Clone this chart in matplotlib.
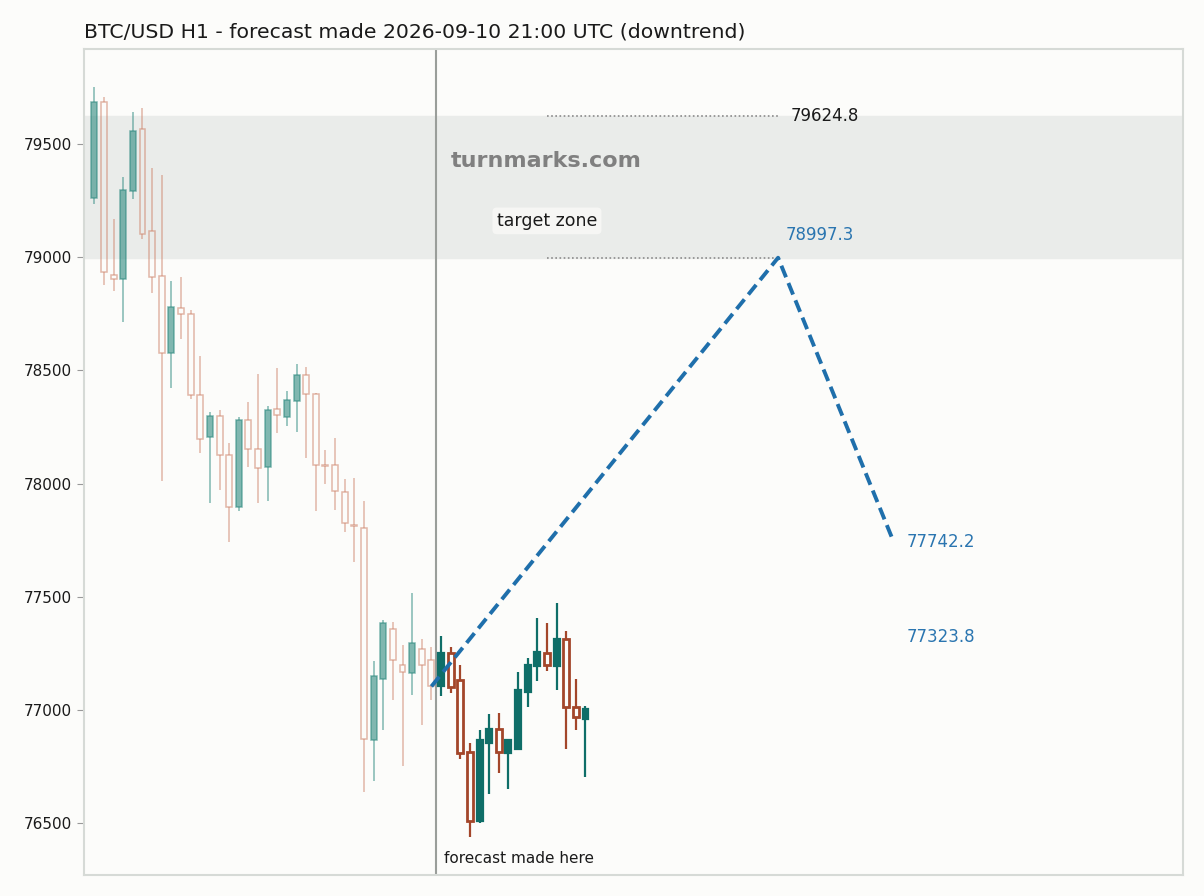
import numpy as np
import matplotlib.pyplot as plt

# Candles before the forecast (H1)
hist_open = [79260, 79684, 78920, 78902, 79294, 79565, 79116, 78917, 78576, 78774,
             78748, 78390, 78204, 78297, 78125, 77896, 78280, 78152, 78072, 78328,
             78293, 78363, 78479, 78394, 78083, 78081, 77962, 77818, 77803, 76866,
             77136, 77356, 77197, 77162, 77268, 77219]
hist_close = [79684, 78933, 78905, 79297, 79557, 79101, 78911, 78576, 78779, 78748,
              78390, 78196, 78297, 78125, 77896, 78280, 78152, 78067, 78324, 78302,
              78368, 78479, 78394, 78081, 78079, 77966, 77825, 77813, 76871, 77149,
              77383, 77219, 77166, 77295, 77197, 77104]
hist_high = [79750, 79706, 79167, 79353, 79640, 79658, 79393, 79362, 78894, 78911,
             78765, 78562, 78318, 78324, 78178, 78293, 78359, 78483, 78344, 78509,
             78410, 78527, 78514, 78399, 78147, 78200, 78019, 78023, 77922, 77215,
             77396, 77387, 77286, 77515, 77312, 77277]
hist_low = [79235, 78877, 78852, 78712, 79256, 79079, 78841, 78010, 78421, 78637,
            78372, 78134, 77913, 77972, 77742, 77879, 78072, 77913, 77923, 78224,
            78254, 78228, 78112, 77878, 77997, 77882, 77785, 77652, 76636, 76685,
            76910, 77043, 76751, 77065, 76933, 77043]

# Candles after the forecast
post_open = [77107, 77250, 77132, 76813, 76511, 76856, 76915, 76811, 76829, 77081,
             77196, 77250, 77196, 77312, 77012, 76962]
post_close = [77252, 77100, 76809, 76510, 76867, 76916, 76813, 76867, 77088, 77199,
              77256, 77199, 77314, 77012, 76968, 77004]
post_high = [77327, 77278, 77199, 76854, 76913, 76982, 76987, 76872, 77168, 77230,
             77406, 77384, 77473, 77349, 77137, 77018]
post_low = [77063, 77077, 76783, 76441, 76502, 76630, 76723, 76651, 76829, 77015,
            77130, 77170, 77090, 76829, 76913, 76706]

# Forecast path (bar index, price)
fc_x = [35, 71, 83]
fc_y = [77104, 78997.3, 77742.2]
zone_low = 78997.3
zone_high = 79624.8
second_level = 77323.8

bg = "#fcfcfa"
fig = plt.figure(figsize=(12.04, 8.96), dpi=100, facecolor=bg)
ax = fig.add_axes([0.0698, 0.0234, 0.9128, 0.9219], facecolor=bg)


def draw_candles(ax, x0, o, c, h, l, up, down, alpha, lw, blw):
    for i in range(len(o)):
        x = x0 + i
        bull = c[i] >= o[i]
        col = up if bull else down
        lo, hi = min(o[i], c[i]), max(o[i], c[i])
        ax.vlines(x, l[i], lo, color=col, lw=lw, alpha=alpha, zorder=2)
        ax.vlines(x, hi, h[i], color=col, lw=lw, alpha=alpha, zorder=2)
        height = max(hi - lo, 4)
        if bull:
            ax.bar(x, height, 0.62, bottom=lo, color=col, edgecolor=col,
                   lw=lw, alpha=alpha, zorder=3)
        else:
            ax.bar(x, height, 0.62, bottom=lo, facecolor="none", edgecolor=col,
                   lw=blw, alpha=alpha, zorder=3)


draw_candles(ax, 0, hist_open, hist_close, hist_high, hist_low,
             "#2e8a80", "#d08870", 0.6, 1.1, 1.1)
draw_candles(ax, 36, post_open, post_close, post_high, post_low,
             "#0f6e68", "#a3462a", 1.0, 1.6, 2.0)

# target zone
ax.axhspan(zone_low, zone_high, color="#eaecea", zorder=0)
ax.hlines([zone_high, zone_low], 47, 71, colors="#8a8a8a", linestyles=(0, (1, 1.5)),
          lw=1.2, zorder=1)
ax.text(72.3, zone_high, f"{zone_high:.1f}", fontsize=12, color="#1a1a1a",
        va="center", ha="left")
ax.text(71.8, zone_low + 100, f"{zone_low:.1f}", fontsize=12, color="#2a75b0",
        va="center", ha="left")
ax.text(84.3, fc_y[2], f"{fc_y[2]:.1f}", fontsize=12, color="#2a75b0",
        va="center", ha="left")
ax.text(84.3, second_level, f"{second_level:.1f}", fontsize=12, color="#2a75b0",
        va="center", ha="left")
ax.text(47, 79160, "target zone", fontsize=12.5, color="#1a1a1a", ha="center",
        va="center", bbox=dict(boxstyle="round,pad=0.25", fc="#f6f6f4", ec="none"))
ax.text(46.9, 79425, "turnmarks.com", fontsize=16, fontweight="bold",
        color="#808080", ha="center", va="center")

# forecast line
ax.plot(fc_x, fc_y, color="#1f6fab", lw=2.8, ls=(0, (3.2, 1.6)), zorder=4)

# forecast time marker
ax.axvline(35.5, color="#9a9e9a", lw=1.5, zorder=1)
ax.text(36.3, 76346, "forecast made here", fontsize=11, color="#1a1a1a",
        ha="left", va="center")

ax.set_xlim(-1.07, 113.05)
ax.set_ylim(76271, 79919)
ax.set_yticks([76500, 77000, 77500, 78000, 78500, 79000, 79500])
ax.set_xticks([])
ax.tick_params(axis="y", labelsize=11, color="#999999", length=5, labelcolor="#1a1a1a")
for s in ax.spines.values():
    s.set_color("#d6dad6")
    s.set_linewidth(1.5)

ax.set_title("BTC/USD H1 - forecast made 2026-09-10 21:00 UTC (downtrend)",
             loc="left", fontsize=14.7, pad=8, color="#1a1a1a")

fig.savefig("out.png", dpi=100, facecolor=bg)
